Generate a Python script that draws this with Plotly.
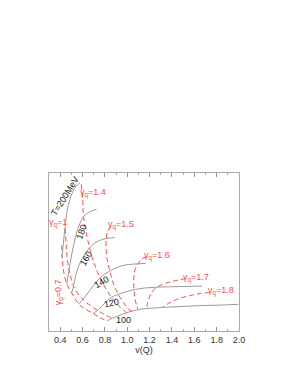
import plotly.graph_objects as go

# Isotherms (T in MeV): v(Q) and vertical quantity (arbitrary units, axis unlabeled)
T200_x = [0.418, 0.423, 0.436, 0.450, 0.472, 0.503, 0.539, 0.575]
T200_y = [0.461, 0.512, 0.606, 0.701, 0.796, 0.865, 0.913, 0.937]
T180_x = [0.459, 0.472, 0.494, 0.526, 0.566, 0.611, 0.665, 0.725]
T180_y = [0.297, 0.354, 0.449, 0.562, 0.663, 0.726, 0.755, 0.769]
T160_x = [0.503, 0.521, 0.548, 0.584, 0.647, 0.709, 0.772, 0.826, 0.888]
T160_y = [0.240, 0.291, 0.373, 0.442, 0.512, 0.556, 0.578, 0.587, 0.591]
T140_x = [0.566, 0.620, 0.709, 0.772, 0.835, 0.915, 0.978, 1.050, 1.166]
T140_y = [0.171, 0.215, 0.297, 0.347, 0.376, 0.404, 0.417, 0.423, 0.428]
T120_x = [0.696, 0.736, 0.772, 0.817, 0.862, 0.915, 0.978, 1.112, 1.291, 1.471, 1.668]
T120_y = [0.111, 0.133, 0.155, 0.190, 0.215, 0.231, 0.246, 0.268, 0.278, 0.281, 0.284]
T100_x = [0.821, 0.862, 0.906, 0.960, 1.014, 1.068, 1.130, 1.291, 1.471, 1.650, 1.829, 1.995]
T100_y = [0.063, 0.079, 0.092, 0.107, 0.120, 0.130, 0.139, 0.148, 0.155, 0.161, 0.164, 0.169]

# Lines of constant gamma_q
g07_x = [0.414, 0.418, 0.432, 0.459, 0.503, 0.566, 0.629, 0.696, 0.754, 0.821]
g07_y = [0.543, 0.461, 0.373, 0.297, 0.240, 0.171, 0.136, 0.111, 0.085, 0.063]
g10_x = [0.445, 0.454, 0.467, 0.490, 0.521, 0.566, 0.629, 0.700, 0.790, 0.879]
g10_y = [0.651, 0.543, 0.436, 0.354, 0.284, 0.227, 0.183, 0.145, 0.107, 0.076]
g14_x = [0.588, 0.602, 0.606, 0.620, 0.647, 0.682, 0.727, 0.781, 0.844, 0.915, 0.996]
g14_y = [0.929, 0.828, 0.752, 0.670, 0.575, 0.474, 0.385, 0.303, 0.227, 0.164, 0.114]
g15_x = [0.853, 0.826, 0.812, 0.810, 0.821, 0.844, 0.875, 0.920, 0.969, 1.005, 1.041]
g15_y = [0.663, 0.632, 0.587, 0.524, 0.449, 0.379, 0.303, 0.231, 0.177, 0.142, 0.125]
g16_x = [1.175, 1.130, 1.094, 1.068, 1.059, 1.059, 1.068, 1.085, 1.097]
g16_y = [0.471, 0.455, 0.423, 0.385, 0.335, 0.272, 0.208, 0.158, 0.133]
g17_x = [1.524, 1.453, 1.381, 1.309, 1.256, 1.215, 1.193, 1.179, 1.178]
g17_y = [0.332, 0.322, 0.310, 0.294, 0.272, 0.240, 0.202, 0.171, 0.145]
g18_x = [1.739, 1.650, 1.560, 1.471, 1.399, 1.345, 1.318]
g18_y = [0.243, 0.237, 0.224, 0.208, 0.186, 0.164, 0.150]

x_ticks = [0.4, 0.6, 0.8, 1.0, 1.2, 1.4, 1.6, 1.8, 2.0]
x_tick_labels = ["0.4", "0.6", "0.8", "1.0", "1.2", "1.4", "1.6", "1.8", "2.0"]

iso = [(T200_x, T200_y), (T180_x, T180_y), (T160_x, T160_y),
       (T140_x, T140_y), (T120_x, T120_y), (T100_x, T100_y)]
gam = [(g07_x, g07_y), (g10_x, g10_y), (g14_x, g14_y), (g15_x, g15_y),
       (g16_x, g16_y), (g17_x, g17_y), (g18_x, g18_y)]

RED = "#ff5050"
GRAY = "#9a9a9a"
FONT = "Liberation Sans"

fig = go.Figure()
for xs, ys in gam:
    fig.add_trace(go.Scatter(x=xs, y=ys, mode="lines", line_shape="spline",
                             line=dict(color=RED, width=1, dash="5px,3px"),
                             showlegend=False, hoverinfo="skip"))
for xs, ys in iso:
    fig.add_trace(go.Scatter(x=xs, y=ys, mode="lines", line_shape="spline",
                             line=dict(color=GRAY, width=1),
                             showlegend=False, hoverinfo="skip"))

# gamma labels
g_labels = [
    ("γ<sub>q</sub>=1.4", 0.691, 0.872, 0),
    ("γ<sub>q</sub>=1.5", 0.942, 0.670, 0),
    ("γ<sub>q</sub>=1.6", 1.265, 0.474, 0),
    ("γ<sub>q</sub>=1.7", 1.614, 0.338, 0),
    ("γ<sub>q</sub>=1.8", 1.838, 0.253, 0),
    ("γ<sub>q</sub>=1", 0.378, 0.682, 0),
    ("γ<sub>q</sub>=0.7", 0.390, 0.246, -90),
]
for txt, x, y, ang in g_labels:
    fig.add_annotation(x=x, y=y, text=txt, showarrow=False, textangle=ang,
                       font=dict(family=FONT, size=9, color=RED))

t_labels = [
    ("T=200MeV", 0.445, 0.853, -58),
    ("180", 0.590, 0.627, -70),
    ("160", 0.638, 0.459, -60),
    ("140", 0.772, 0.311, -30),
    ("120", 0.862, 0.175, -12),
    ("100", 0.970, 0.069, 0),
]
for txt, x, y, ang in t_labels:
    fig.add_annotation(x=x, y=y, text=txt, showarrow=False, textangle=ang,
                       font=dict(family=FONT, size=9, color="#222222"))

fig.update_layout(
    width=273, height=358,
    margin=dict(l=41, r=42, t=165, b=35),
    paper_bgcolor="white", plot_bgcolor="white",
    font=dict(family=FONT, size=9, color="#333333"),
    xaxis=dict(range=[0.3, 2.0], tickvals=x_ticks, ticktext=x_tick_labels,
               ticks="inside", ticklen=4, tickcolor="#999999", tickwidth=1,
               minor=dict(dtick=0.1, ticks="inside", ticklen=2, tickcolor="#aaaaaa"),
               showline=True, linecolor="#aaaaaa", linewidth=1, mirror="ticks",
               showgrid=False, zeroline=False,
               title=dict(text="v(Q)", standoff=0, font=dict(size=9)),
               tickfont=dict(size=9)),
    yaxis=dict(range=[0, 1], showticklabels=False, ticks="",
               showline=True, linecolor="#aaaaaa", linewidth=1, mirror=True,
               showgrid=False, zeroline=False),
)

fig.write_html("out.html")
